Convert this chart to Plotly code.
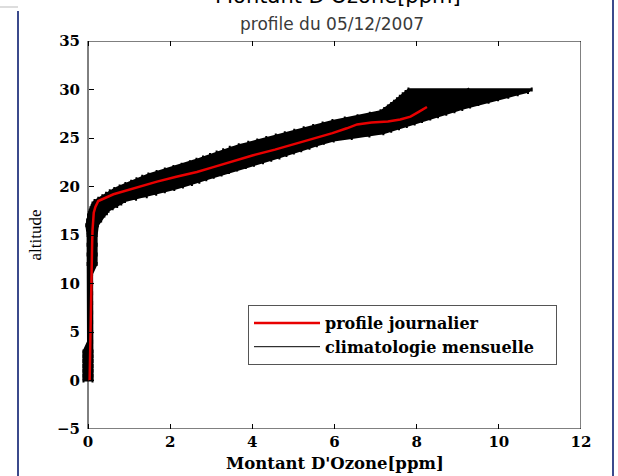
import plotly.graph_objects as go

# ---- data ----
# monthly climatology: altitude (km), mean ozone (ppm), spread (ppm)
clim_alt = [0, 0.5, 1, 1.5, 2, 2.5, 3, 4, 5, 6, 7, 8, 9, 10, 11, 12, 13, 14, 15, 16, 16.5,
            17.0, 17.25, 17.5, 17.75, 18.0, 18.25, 18.5, 18.75, 19.0, 19.25, 19.5, 19.75,
            20.0, 20.25, 20.5, 20.75, 21.0, 21.25, 21.5, 21.75, 22.0, 22.25, 22.5, 22.75,
            23.0, 23.25, 23.5, 23.75, 24.0, 24.25, 24.5, 24.75, 25.0, 25.25, 25.5, 25.75,
            26.0, 26.25, 26.5, 26.75, 27.0, 27.25, 27.5, 27.75, 28.0, 28.25, 28.5, 28.75,
            29.0, 29.25, 29.5, 29.75, 30.0]
clim_mean = [0.0, 0.0, 0.0, 0.0, 0.0, 0.0, 0.0, 0.05, 0.05, 0.05, 0.05, 0.05, 0.05, 0.05, 0.05, 0.1, 0.1, 0.1, 0.1, 0.1, 0.15,
             0.20, 0.24, 0.27, 0.33, 0.40, 0.46, 0.53, 0.71, 0.89, 1.05, 1.20, 1.37,
             1.54, 1.72, 1.88, 2.03, 2.19, 2.36, 2.55, 2.75, 2.96, 3.16, 3.37, 3.55,
             3.73, 3.90, 4.07, 4.24, 4.42, 4.62, 4.82, 5.05, 5.38, 5.71, 5.99, 6.20,
             6.41, 6.62, 6.83, 7.04, 7.29, 7.54, 7.79, 8.02, 8.16, 8.30, 8.44, 8.60,
             8.75, 8.91, 9.06, 9.22, 9.30]
clim_err = [0.11, 0.11, 0.11, 0.11, 0.11, 0.11, 0.11, 0.05, 0.05, 0.05, 0.05, 0.05, 0.05, 0.05, 0.05, 0.11, 0.11, 0.11, 0.11, 0.14, 0.17,
            0.20, 0.22, 0.23, 0.27, 0.31, 0.35, 0.37, 0.46, 0.54, 0.61, 0.67, 0.73,
            0.77, 0.81, 0.83, 0.85, 0.87, 0.89, 0.88, 0.88, 0.88, 0.88, 0.89, 0.91,
            0.93, 0.93, 0.94, 0.95, 0.97, 0.95, 0.92, 0.93, 1.04, 1.14, 1.20, 1.18,
            1.16, 1.14, 1.12, 1.09, 1.04, 0.98, 0.93, 0.90, 0.95, 1.00, 1.06, 1.15,
            1.23, 1.32, 1.40, 1.49, 1.50]

# daily profile of 05/12/2007
day_alt = [0, 3, 6, 9, 12, 14, 15.5, 16.5, 17.3, 17.9, 18.5, 19.2, 19.8, 20.5, 21.0, 21.5,
           22.0, 22.6, 23.2, 23.8, 24.4, 25.0, 25.5, 26.0, 26.4, 26.6, 26.7, 26.9, 27.2, 27.7, 28.2]
day_ozone = [0.04, 0.05, 0.06, 0.08, 0.09, 0.10, 0.11, 0.12, 0.14, 0.18, 0.25, 0.62, 1.10, 1.68, 2.15, 2.65,
             3.05, 3.50, 4.00, 4.55, 5.05, 5.55, 5.95, 6.30, 6.55, 6.90, 7.30, 7.60, 7.85, 8.05, 8.25]

x_ticks = [0, 2, 4, 6, 8, 10, 12]
y_ticks = [-5, 0, 5, 10, 15, 20, 25, 30, 35]

serif_b = "DejaVu Serif"
serif = "Liberation Serif"
sans = "DejaVu Sans"

W, H = 618, 476
AX_L, AX_R, AX_T, AX_B = 88, 581, 41, 429      # axes box in pixels
L = 70                                           # plot area starts a bit left so the band may spill over the axis
T, B, R = AX_T, H - AX_B, W - AX_R
pw = W - L - R
ph = H - T - B
x_min, x_max = 0, 12
y_min, y_max = -5, 35
ppm_per_px = (x_max - x_min) / (AX_R - AX_L)

def px(p):
    return (p - L) / pw

def py(p):
    return (AX_B - p) / ph

# envelope of the climatology (mean -/+ spread)
env_x = [m - e for m, e in zip(clim_mean, clim_err)] + [m + e for m, e in zip(clim_mean, clim_err)][::-1]
env_y = clim_alt + clim_alt[::-1]

fig = go.Figure()
fig.add_trace(go.Scatter(
    x=env_x, y=env_y, mode="lines", fill="toself", fillcolor="black", showlegend=False,
    line=dict(color="black", width=2), hoverinfo="skip",
))
fig.add_trace(go.Scatter(
    x=clim_mean, y=clim_alt, mode="lines", showlegend=False,
    line=dict(color="black", width=5),
    error_x=dict(type="data", array=clim_err, visible=True, color="black", thickness=2, width=2),
))
fig.add_trace(go.Scatter(
    x=day_ozone, y=day_alt, mode="lines", name="profile journalier",
    line=dict(color="rgb(232,0,0)", width=2.5),
))
fig.add_trace(go.Scatter(
    x=[None], y=[None], mode="lines", name="climatologie mensuelle\u00a0\u00a0\u00a0",
    line=dict(color="black", width=1),
))

tickfont = dict(family=serif_b, size=15, color="black", weight="bold")

fig.update_layout(
    width=W, height=H,
    margin=dict(l=L, r=R, t=T, b=B, autoexpand=False),
    paper_bgcolor="white", plot_bgcolor="white",
    xaxis=dict(domain=[0, 1], range=[x_min - (AX_L - L) * ppm_per_px, x_max], tickvals=x_ticks,
               ticks="inside", ticklen=5, tickcolor="black", automargin=False,
               showline=False, mirror="ticks", showgrid=False,
               zeroline=False, ticklabelstandoff=2, tickfont=tickfont),
    yaxis=dict(domain=[0, 1], range=[y_min, y_max], tickvals=y_ticks, ticks="inside", ticklen=5,
               tickcolor="black", anchor="free", position=px(AX_L), automargin=False,
               showline=False, mirror="ticks", showgrid=False, ticksuffix="\u00a0",
               zeroline=False, ticklabelstandoff=8, tickfont=tickfont,
               title=dict(text="altitude", standoff=10,
                          font=dict(family=serif, size=17, color="black"))),
    legend=dict(x=px(248), y=py(305), xanchor="left", yanchor="top",
                bgcolor="white", bordercolor="#555", borderwidth=1, itemwidth=66,
                font=dict(family=serif_b, size=16, color="black", weight="bold"),
                tracegroupgap=0),
    annotations=[
        dict(text="Montant D'Ozone[ppm]", x=px(338), y=py(-4), xref="paper", yref="paper",
             xanchor="center", yanchor="middle", showarrow=False,
             font=dict(family=sans, size=21, color="black")),
        dict(text="profile du 05/12/2007", x=px(332), y=py(24), xref="paper", yref="paper",
             xanchor="center", yanchor="middle", showarrow=False,
             font=dict(family=sans, size=17, color="#3a3a3a")),
        dict(text="Montant D'Ozone[ppm]", x=px(335), y=py(464), xref="paper", yref="paper",
             xanchor="center", yanchor="middle", showarrow=False,
             font=dict(family=serif_b, size=16.5, color="black", weight="bold")),
    ],
    shapes=[
        dict(type="rect", xref="x", yref="y", x0=x_min, x1=x_max, y0=y_min, y1=y_max,
             line=dict(color="black", width=1), layer="below"),
        dict(type="line", xref="paper", yref="paper", x0=px(18), x1=px(18), y0=py(11), y1=py(476),
             line=dict(color="#3b4a8c", width=2)),
        dict(type="line", xref="paper", yref="paper", x0=px(0), x1=px(18), y0=py(7), y1=py(7),
             line=dict(color="#bbbbbb", width=1)),
        dict(type="line", xref="paper", yref="paper", x0=px(613), x1=px(613), y0=py(0), y1=py(476),
             line=dict(color="#3b4a8c", width=2)),
    ],
)

fig.write_html("out.html")
